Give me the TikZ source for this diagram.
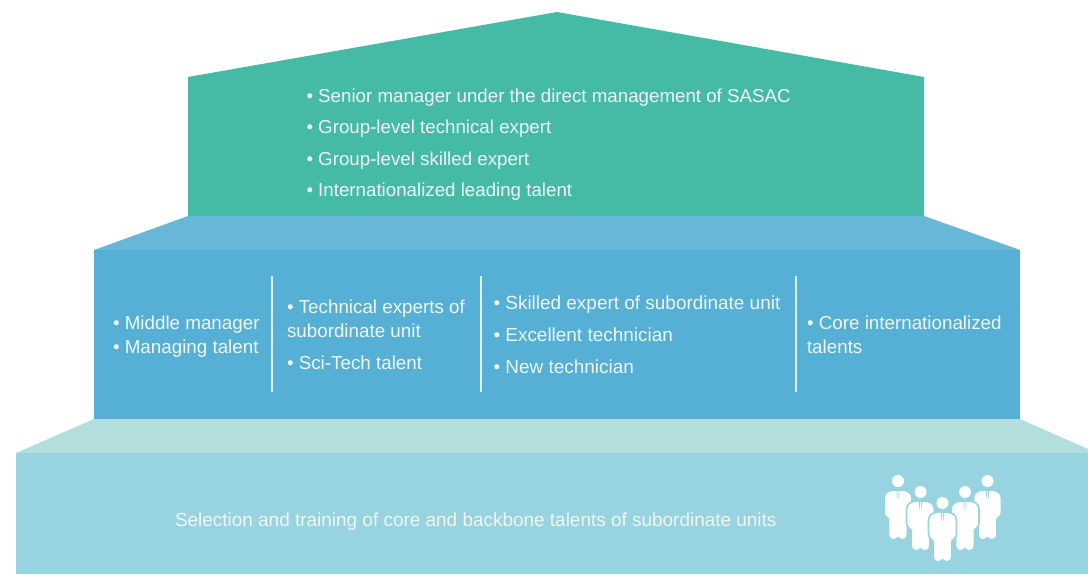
\documentclass[tikz,border=0pt]{standalone}
\usepackage{fontspec}
\setmainfont{Liberation Sans}
\definecolor{topc}{HTML}{45BBA5}
\definecolor{midc}{HTML}{56B0D6}
\definecolor{midr}{HTML}{67B8D8}
\definecolor{lowc}{HTML}{98D4DF}
\definecolor{lowr}{HTML}{B3DEDE}
\definecolor{txt}{HTML}{EEF8FA}
\definecolor{rule}{HTML}{DDF0F6}
\tikzset{
  lbl/.style={anchor=base west,inner sep=0pt,outer sep=0pt,text=txt,font=\fontsize{18.8}{18.8}\selectfont},
  lbltop/.style={lbl,font=\fontsize{18.72}{18.72}\selectfont},
  lblwide/.style={lbl,font=\fontsize{18.95}{18.95}\selectfont},
  divider/.style={draw=rule,line width=1.5pt},
  person/.pic={
    \fill[white] (0,0) circle (6);
    \path[fill=white,draw=lowc,line width=1.6pt,line join=round]
      (-4,9) -- (4,9) .. controls (9,9.5) and (13.5,11) .. (14,17)
      -- (14,30) .. controls (14,34) and (12,36.5) .. (9.5,38)
      -- (9.5,54) .. controls (9,60) and (2,60) .. (0,56.5)
      .. controls (-2,60) and (-9,60) .. (-9.5,54)
      -- (-9.5,38) .. controls (-12,36.5) and (-14,34) .. (-14,30)
      -- (-14,17) .. controls (-13.5,11) and (-9,9.5) .. (-4,9) -- cycle;
    \fill[lowc] (-1.6,9) -- (-0.6,9) -- (-0.5,18) -- (-1.1,17) -- cycle;
    \fill[lowc] (1.6,9) -- (0.6,9) -- (0.5,18) -- (1.1,17) -- cycle;
  }
}
\begin{document}
\begin{tikzpicture}[x=1pt,y=-1pt]
\useasboundingbox (0,0) rectangle (1088,574);
% tiers
\fill[topc] (188,77) -- (557,12) -- (924,77) -- (924,216) -- (188,216) -- cycle;
\fill[midr] (188,216) -- (924,216) -- (1020,250) -- (94,250) -- cycle;
\fill[midc] (94,250) rectangle (1020,419);
\fill[lowr] (94,419) -- (1020,419) -- (1088,449) -- (1088,453) -- (16,453) -- cycle;
\fill[lowc] (16,453) rectangle (1088,574);
% top texts
\node[lbltop] (t1) at (306.5,102) {• Senior manager under the direct management of SASAC};
\node[lbltop] (t2) at (306.5,133) {• Group-level technical expert};
\node[lbltop] (t3) at (306.5,165) {• Group-level skilled expert};
\node[lbltop] (t4) at (306.5,196) {• Internationalized leading talent};
% column 1
\node[lbl] (a1) at (113,329) {• Middle manager};
\node[lbl] (a2) at (113,353) {• Managing talent};
% column 2
\node[lbl] (b1) at (287,313) {• Technical experts of};
\node[lbl] (b2) at (287,337) {subordinate unit};
\node[lbl] (b3) at (287,369) {• Sci-Tech talent};
% column 3
\node[lblwide] (c1) at (493.5,309) {• Skilled expert of subordinate unit};
\node[lblwide] (c2) at (493.5,341) {• Excellent technician};
\node[lblwide] (c3) at (493.5,373) {• New technician};
% column 4
\node[lbl] (d1) at (807,329) {• Core internationalized};
\node[lbl] (d2) at (807,353) {talents};
% bottom
\node[lblwide] (e1) at (175,526) {Selection and training of core and backbone talents of subordinate units};
% dividers
\coordinate (p1t) at (272,276); \coordinate (p1b) at (272,392);
\coordinate (p2t) at (481,276); \coordinate (p2b) at (481,392);
\coordinate (p3t) at (796,276); \coordinate (p3b) at (796,392);
\draw[divider] (p1t) -- (p1b);
\draw[divider] (p2t) -- (p2b);
\draw[divider] (p3t) -- (p3b);
% people icon
\pic at (898,481) {person};
\pic at (987.5,481) {person};
\pic at (920.5,492) {person};
\pic at (965,492) {person};
\pic at (942.5,503) {person};
\end{tikzpicture}
\end{document}
